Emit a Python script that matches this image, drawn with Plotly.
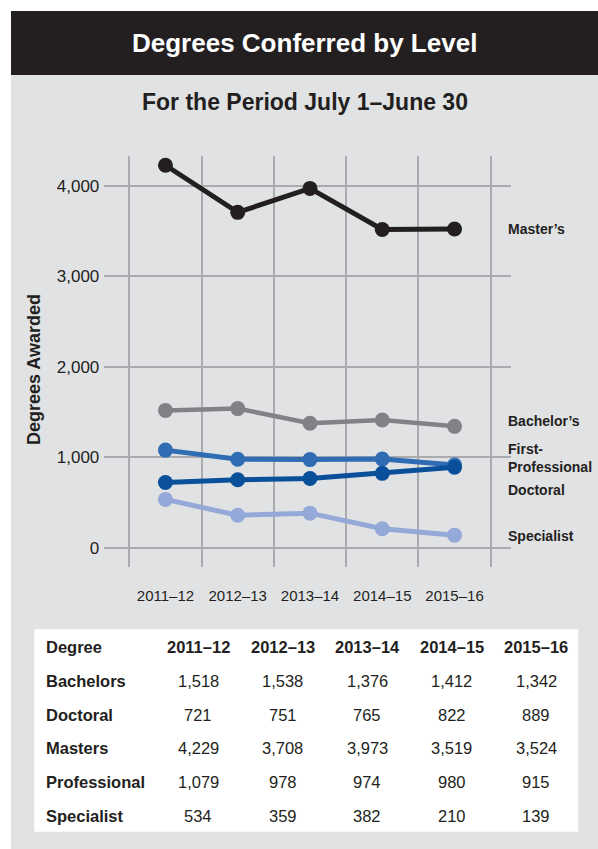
import plotly.graph_objects as go

# Academic years and degrees awarded per level
years = ["2011–12", "2012–13", "2013–14", "2014–15", "2015–16"]
bachelors = [1518, 1538, 1376, 1412, 1342]
doctoral = [721, 751, 765, 822, 889]
masters = [4229, 3708, 3973, 3519, 3524]
professional = [1079, 978, 974, 980, 915]
specialist = [534, 359, 382, 210, 139]

y_tick_values = [0, 1000, 2000, 3000, 4000]

W, H = 598, 849
FONT = "Liberation Sans, Arial, Helvetica, sans-serif"
INK = "#231f20"
PANEL = "#e1e2e4"
GRID = "#a9abae"


def px(x):
    return x / W


def py(y):
    return 1 - y / H


# series drawn bottom-up so Doctoral sits above First-Professional
series = [
    ("Specialist", specialist, "#94a9d7", 5),
    ("Bachelor’s", bachelors, "#808285", 4.5),
    ("First-Professional", professional, "#2f6cb3", 5),
    ("Doctoral", doctoral, "#0a4f9a", 5),
    ("Master’s", masters, INK, 5),
]

fig = go.Figure()
for name, vals, color, lw in series:
    fig.add_trace(go.Scatter(
        x=years, y=vals, name=name, mode="lines+markers",
        line=dict(color=color, width=lw),
        marker=dict(color=color, size=15),
        showlegend=False, hoverinfo="x+y+name",
    ))

shapes = [
    # grey panel
    dict(type="rect", xref="paper", yref="paper", x0=px(11), x1=1, y0=0, y1=py(11),
         fillcolor=PANEL, line=dict(width=0), layer="below"),
    # title band
    dict(type="rect", xref="paper", yref="paper", x0=px(11), x1=1, y0=py(75), y1=py(11),
         fillcolor=INK, line=dict(width=0), layer="below"),
    # table background
    dict(type="rect", xref="paper", yref="paper", x0=px(34.3), x1=px(578.3),
         y0=py(831.7), y1=py(629.3), fillcolor="white", line=dict(width=0), layer="below"),
]

annotations = [
    dict(text="<b>Degrees Conferred by Level</b>", x=px(304.5), y=py(43),
         font=dict(size=26, color="white")),
    dict(text="<b>For the Period July 1–June 30</b>", x=px(304.5), y=py(102),
         font=dict(size=23, color=INK)),
    dict(text="<b>Degrees Awarded</b>", x=px(34), y=py(370), textangle=-90,
         font=dict(size=18, color=INK)),
]

# series labels to the right of the plot
side_labels = [
    ("Master’s", 229),
    ("Bachelor’s", 420.7),
    ("First-<br>Professional", 458),
    ("Doctoral", 490),
    ("Specialist", 536),
]
for text, ypix in side_labels:
    annotations.append(dict(text=f"<b>{text}</b>", x=px(505.5), y=py(ypix), xanchor="left",
                            align="left", font=dict(size=14, color=INK)))

# data table under the chart
table_rows = [
    ("Bachelors", bachelors),
    ("Doctoral", doctoral),
    ("Masters", masters),
    ("Professional", professional),
    ("Specialist", specialist),
]
col_x = [198, 282.5, 367, 451.5, 536]
row_y0, row_step = 647.3, 33.7
label_x = 43.5

annotations.append(dict(text="<b>Degree</b>", x=px(label_x), y=py(row_y0), xanchor="left",
                        font=dict(size=16.5, color=INK)))
for cx, yr in zip(col_x, years):
    annotations.append(dict(text=f"<b>{yr}</b>", x=px(cx), y=py(row_y0),
                            font=dict(size=16.5, color=INK)))
for i, (label, vals) in enumerate(table_rows, start=1):
    ry = row_y0 + i * row_step
    annotations.append(dict(text=f"<b>{label}</b>", x=px(label_x), y=py(ry), xanchor="left",
                            font=dict(size=16.5, color=INK)))
    for cx, v in zip(col_x, vals):
        annotations.append(dict(text=f"{v:,}", x=px(cx), y=py(ry),
                                font=dict(size=16.5, color=INK)))

for a in annotations:
    a.setdefault("xref", "paper")
    a.setdefault("yref", "paper")
    a.setdefault("showarrow", False)
    a.setdefault("yanchor", "middle")
    a.setdefault("xanchor", "center")

fig.update_layout(
    width=W, height=H,
    margin=dict(l=0, r=0, t=0, b=0),
    paper_bgcolor="white",
    plot_bgcolor=PANEL,
    font=dict(family=FONT, color=INK),
    shapes=shapes,
    annotations=annotations,
    xaxis=dict(
        type="category", domain=[px(104.3), px(511)], range=[-0.846, 4.781],
        tickson="boundaries", showgrid=True, gridcolor=GRID, gridwidth=1.5,
        ticks="", showline=False, zeroline=False,
        tickfont=dict(size=15, color=INK), ticklabelstandoff=18,
    ),
    yaxis=dict(
        domain=[py(566.7), py(156)], range=[-210, 4331],
        tickvals=y_tick_values, tickformat=",", showgrid=True, gridcolor=GRID,
        gridwidth=1.5, ticks="", showline=False, zeroline=False,
        tickfont=dict(size=17, color=INK), ticklabelstandoff=4,
    ),
)

fig.write_html("out.html")
